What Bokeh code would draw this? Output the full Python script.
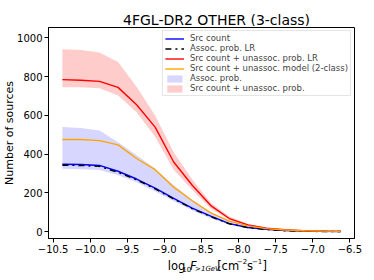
from bokeh.plotting import figure
from bokeh.models import Range1d, FixedTicker, Legend, LegendItem
from bokeh.layouts import column
from bokeh.core.properties import value
from bokeh.embed import file_html
from bokeh.resources import INLINE

# ---- data ----
log_flux = [-10.375, -10.125, -9.875, -9.625, -9.375, -9.125, -8.875, -8.625,
            -8.375, -8.125, -7.875, -7.625, -7.375, -7.125, -6.875, -6.625]
src_count = [348, 347, 342, 312, 272, 225, 172, 122, 80, 42, 22, 12, 6, 3, 2, 1]
assoc_lr = [343, 342, 337, 306, 268, 221, 169, 119, 78, 41, 21, 11, 5, 3, 1, 1]
src_unassoc_lr = [785, 782, 776, 745, 655, 540, 360, 240, 135, 68, 35, 18, 10, 5, 3, 2]
src_unassoc_model = [476, 476, 470, 448, 378, 320, 230, 160, 97, 55, 30, 16, 9, 5, 3, 2]
assoc_lo = [325, 322, 318, 292, 255, 208, 158, 110, 70, 36, 18, 9, 4, 2, 1, 0]
assoc_hi = [540, 535, 522, 462, 395, 326, 240, 165, 100, 55, 30, 16, 9, 5, 3, 2]
unassoc_lo = [746, 745, 740, 703, 617, 490, 320, 215, 120, 60, 30, 15, 8, 4, 2, 1]
unassoc_hi = [942, 938, 925, 876, 748, 600, 410, 270, 150, 78, 40, 20, 11, 6, 3, 2]

x_ticks = [-10.5, -10.0, -9.5, -9.0, -8.5, -8.0, -7.5, -7.0, -6.5]
y_ticks = [0, 200, 400, 600, 800, 1000]

title_text = "4FGL-DR2 OTHER (3-class)"
y_label = "Number of sources"

X0, X1 = -10.5625, -6.4375
Y0, Y1 = -35, 1054
W = 366
HT, HM, HB = 26, 234, 26   # title strip, main plot, x-label strip
OVL = 10                   # x-label strip overlaps the bottom of the main plot
BL, BR, BT, BB = 48, 12, 1, 22
FONT = "DejaVu Sans"
DY = 3   # text baseline correction (px)


def strip(h):
    f = figure(width=W, height=h, output_backend="svg", toolbar_location=None,
               x_range=Range1d(0, W), y_range=Range1d(0, h),
               x_axis_type=None, y_axis_type=None, min_border=0,
               min_border_left=0, min_border_right=0, min_border_top=0,
               min_border_bottom=0)
    f.outline_line_color = None
    f.grid.visible = False
    f.background_fill_color = None
    f.border_fill_color = None
    return f


# ---- title strip ----
pt = strip(HT)
pt.text(x=[201], y=[HT - (22 - DY)], text=[title_text], text_font=value(FONT),
        text_font_size=value("14px"), text_align="center",
        text_baseline="alphabetic", text_color="black")

# ---- main plot ----
p = figure(width=W, height=HM, output_backend="svg",
           toolbar_location=None, x_range=Range1d(X0, X1), y_range=Range1d(Y0, Y1),
           min_border_left=BL, min_border_right=BR, min_border_top=BT,
           min_border_bottom=BB)
p.outline_line_color = "black"
p.grid.visible = False
p.background_fill_color = "white"

for ax in (p.xaxis[0], p.yaxis[0]):
    ax.axis_line_color = "black"
    ax.major_tick_line_color = "black"
    ax.minor_tick_line_color = None
    ax.major_tick_out = 4
    ax.major_tick_in = 0
    ax.major_label_text_font = FONT
    ax.major_label_text_font_size = "10px"
    ax.major_label_text_color = "black"
    ax.major_label_standoff = 2

p.xaxis.ticker = FixedTicker(ticks=x_ticks)
p.xaxis.major_label_overrides = {t: ("%.1f" % t).replace("-", "\u2212") for t in x_ticks}
p.yaxis.ticker = FixedTicker(ticks=y_ticks)
p.yaxis.axis_label = y_label
p.yaxis.axis_label_text_font = FONT
p.yaxis.axis_label_text_font_size = "11px"
p.yaxis.axis_label_text_font_style = "normal"
p.yaxis.axis_label_text_color = "black"
p.yaxis.axis_label_standoff = -2

b_assoc = p.varea(x=log_flux, y1=assoc_lo, y2=assoc_hi, fill_color="blue", fill_alpha=0.16)
b_unassoc = p.varea(x=log_flux, y1=unassoc_lo, y2=unassoc_hi, fill_color="red", fill_alpha=0.2)
l_src = p.line(log_flux, src_count, line_color="blue", line_width=1.4)
l_alr = p.line(log_flux, assoc_lr, line_color="black", line_width=1.4, line_dash="dashdot")
l_ulr = p.line(log_flux, src_unassoc_lr, line_color="red", line_width=1.4)
l_um = p.line(log_flux, src_unassoc_model, line_color="orange", line_width=1.4)

legend = Legend(items=[
    LegendItem(label="Src count", renderers=[l_src]),
    LegendItem(label="Assoc. prob. LR", renderers=[l_alr]),
    LegendItem(label="Src count + unassoc. prob. LR", renderers=[l_ulr]),
    LegendItem(label="Src count + unassoc. model (2-class)", renderers=[l_um]),
    LegendItem(label="Assoc. prob.", renderers=[b_assoc]),
    LegendItem(label="Src count + unassoc. prob.", renderers=[b_unassoc]),
], location="top_right")
legend.label_text_font = FONT
legend.label_text_font_size = "8.5px"
legend.label_height = 10
legend.glyph_height = 9
legend.glyph_width = 19
legend.spacing = 0
legend.padding = 2
legend.margin = 3
legend.label_standoff = 6
legend.border_line_color = "#cccccc"
legend.background_fill_alpha = 0.8
p.add_layout(legend, "center")

# ---- x-label strip (log10 F_{>1GeV} [cm^-2 s^-1]) ----
pb = strip(HB)
pb.margin = (-OVL, 0, 0, 0)
TOP = HT + HM - OVL   # page y of strip top


def piece(txt, px, py, size, style="normal"):
    pb.text(x=[px], y=[HB - (py - DY - TOP)], text=[txt], text_font=value(FONT),
            text_font_size=value(size), text_font_style=style, text_align="left",
            text_baseline="alphabetic", text_color="black")


piece("log", 142.7, 268.3, "11.5px")
piece("10", 160, 271, "7px")
piece("F", 169.3, 268.3, "11.5px", "italic")
piece(">1GeV", 175.3, 271, "7px", "italic")
piece("[cm", 201.7, 268.3, "11.5px")
piece("\u22122", 225.3, 263, "7px")
piece("s", 237.3, 268.3, "11.5px")
piece("\u22121", 243.3, 263, "7px")
piece("]", 256, 268.3, "11.5px")

layout = column(pt, p, pb, spacing=0)
open("out.html", "w").write(file_html(layout, INLINE))
